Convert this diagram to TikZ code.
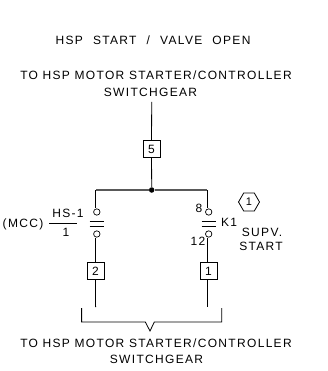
\documentclass[tikz,border=0pt]{standalone}
\usepackage{fontspec}
\setmainfont[LetterSpace=11]{Liberation Sans}
\usetikzlibrary{shapes.geometric}
\tikzset{
 lbl/.style={inner sep=0pt, font=\fontsize{12}{14}\selectfont},
 wirebox/.style={draw, minimum width=17pt, minimum height=17pt, inner sep=0pt, line width=0.8pt, font=\fontsize{12}{14}\selectfont},
 contact/.style={draw, circle, minimum size=6.4pt, inner sep=0pt, line width=0.7pt},
 plate/.style={inner sep=0pt, minimum width=14pt, minimum height=0pt},
 hexa/.style={draw, regular polygon, regular polygon sides=6, minimum size=21pt, inner sep=0pt, line width=0.8pt, font=\fontsize{11}{13}\selectfont}
}
\begin{document}
\begin{tikzpicture}[x=1pt, y=-1pt, line width=0.8pt]
 \useasboundingbox (0, 0) rectangle (327, 371);
 % headings
 \node[lbl] (title) at (153, 40) {HSP\hspace{5.5pt} START\hspace{5.5pt} /\hspace{5.5pt} VALVE\hspace{5.5pt} OPEN};
 \node[lbl] (topa) at (156, 75) {TO HSP MOTOR STARTER/CONTROLLER};
 \node[lbl] (topb) at (150.5, 92) {SWITCHGEAR};
 \node[lbl] (bota) at (156, 343) {TO HSP MOTOR STARTER/CONTROLLER};
 \node[lbl] (botb) at (156.5, 359) {SWITCHGEAR};
 % feed and junction
 \coordinate (feed) at (151.7, 102);
 \node[wirebox] (box5) at (151.5, 149) {5};
 \node[circle, fill, minimum size=5.5pt, inner sep=0pt] (junction) at (151.7, 190) {};
 \draw (feed) -- (box5);
 \draw (box5) -- (junction);
 % left branch
 \coordinate (hsbus) at (95.6, 190);
 \node[contact] (hstop) at (96.8, 212) {};
 \node[plate] (hsup) at (97, 221) {};
 \node[plate] (hsdn) at (97, 226) {};
 \node[contact] (hslow) at (96.8, 234) {};
 \node[wirebox] (box2) at (95.5, 271) {2};
 \coordinate (hsend) at (95.6, 307);
 \draw[line width=1.1pt, black!65] (junction) -- (hsbus);
 \draw (hsbus) -- (hsbus |- hstop.north);
 \draw (hsup.west) -- (hsup.east);
 \draw (hsdn.west) -- (hsdn.east);
 \draw (box2 |- hslow.south) -- (box2);
 \draw (box2) -- (hsend);
 % right branch
 \coordinate (kbus) at (207.4, 190);
 \node[contact] (ktop) at (208.7, 212) {};
 \node[plate] (kup) at (209, 221) {};
 \node[plate] (kdn) at (209, 226) {};
 \node[contact] (klow) at (208.7, 234) {};
 \node[wirebox] (box1) at (208.5, 271) {1};
 \coordinate (kend) at (207.6, 307);
 \draw[line width=1.1pt, black!65] (junction) -- (kbus);
 \draw (kbus) -- (kbus |- ktop.north);
 \draw (kup.west) -- (kup.east);
 \draw (kdn.west) -- (kdn.east);
 \draw (kend |- klow.south) -- (kend |- box1.north);
 \draw (kend |- box1.south) -- (kend);
 % switch labels
 \node[lbl] (mcc) at (23, 224) {(MCC)};
 \node[lbl] (hsname) at (68, 213) {HS-1};
 \node[lbl] (hsnum) at (66, 232) {1};
 \coordinate (barl) at (49, 223);
 \coordinate (barr) at (77, 223);
 \draw (barl) -- (barr);
 \node[lbl] (eight) at (199, 208) {8};
 \node[lbl] (twelve) at (198, 241) {12};
 \node[lbl] (kone) at (229, 222) {K1};
 \node[hexa] (note) at (249, 202) {1};
 \node[lbl] (supv) at (262, 232) {SUPV.};
 \node[lbl] (start) at (261, 246) {START};
 % bottom bracket
 \coordinate (brl) at (81.6, 308);
 \coordinate (brr) at (221.7, 308);
 \coordinate (vl) at (145.3, 322);
 \coordinate (vm) at (150, 331);
 \coordinate (vr) at (154.3, 322);
 \draw (brl) -- (brl |- vl) -- (vl) -- (vm) -- (vr) -- (brr |- vr) -- (brr);
\end{tikzpicture}
\end{document}
